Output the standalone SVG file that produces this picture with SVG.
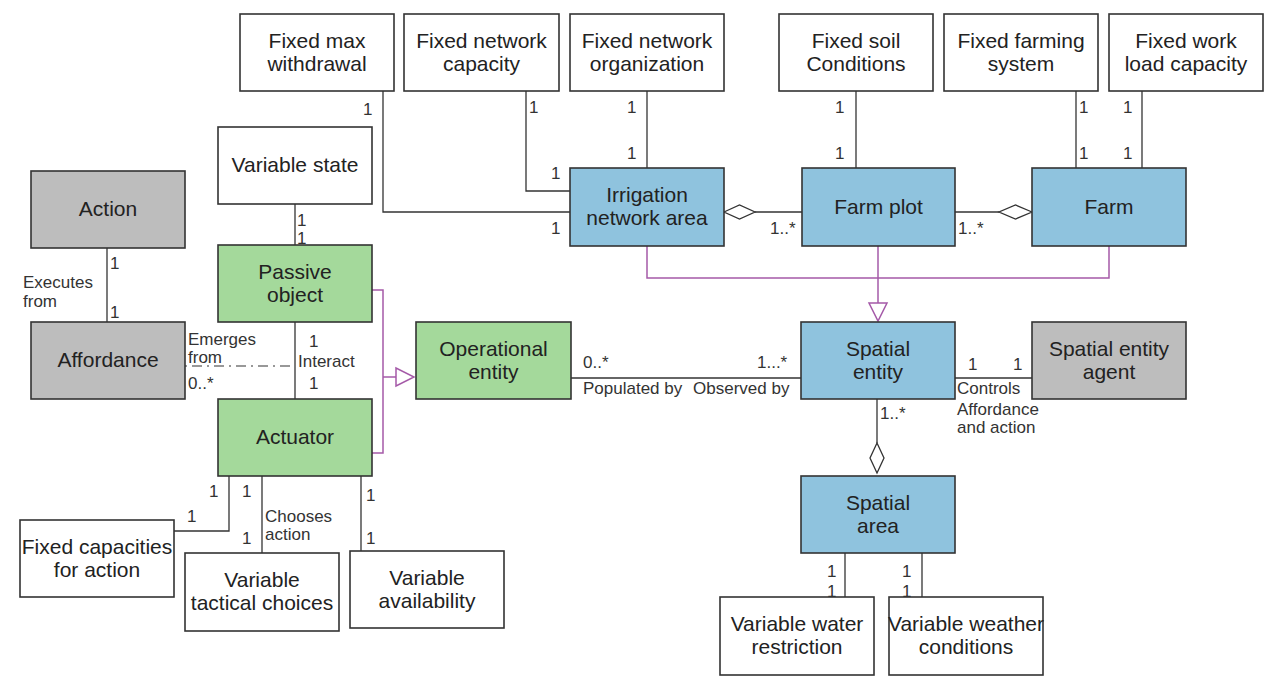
<svg xmlns="http://www.w3.org/2000/svg" width="1267" height="677" viewBox="0 0 1267 677">
  <style>
    .box rect { stroke: #333; stroke-width: 1.6; }
    .plain rect { fill: #ffffff; }
    .spatial rect { fill: #8fc3de; }
    .oper rect { fill: #a4d99b; }
    .agent rect { fill: #bdbdbd; }
    .box text { font-family: "Liberation Sans", Arial, sans-serif; font-size: 21px; fill: #222; text-anchor: middle; }
    .conn { fill: none; stroke: #333; stroke-width: 1.3; }
    .gen { fill: none; stroke: #a55aa8; stroke-width: 1.5; }
    .lbl { font-family: "Liberation Sans", Arial, sans-serif; font-size: 17px; fill: #333; }
    .dia { fill: #fff; stroke: #333; stroke-width: 1.3; }
    .tri { fill: #fff; stroke: #a55aa8; stroke-width: 1.5; }
  </style>

  <!-- connectors -->
  <g id="connectors">
    <!-- fixed attributes of the irrigation network area -->
    <polyline class="conn" points="383,91 383,212 570,212"/>
    <polyline class="conn" points="526,91 526,191 570,191"/>
    <line class="conn" x1="647" y1="91" x2="647" y2="168"/>
    <!-- fixed attributes of plot and farm -->
    <line class="conn" x1="856" y1="91" x2="856" y2="168"/>
    <line class="conn" x1="1076" y1="91" x2="1076" y2="168"/>
    <line class="conn" x1="1142" y1="91" x2="1142" y2="168"/>
    <!-- aggregations -->
    <line class="conn" x1="755" y1="212" x2="802" y2="212"/>
    <polygon class="dia" points="724,212 739.5,205 755,212 739.5,219"/>
    <line class="conn" x1="955" y1="212" x2="999" y2="212"/>
    <polygon class="dia" points="1032,212 1015.5,205 999,212 1015.5,219"/>
    <!-- generalization to spatial entity -->
    <polyline class="gen" points="647,246 647,278 1109,278 1109,246"/>
    <line class="gen" x1="878" y1="246" x2="878" y2="303"/>
    <polygon class="tri" points="869,303 887,303 878,321"/>
    <!-- spatial entity links -->
    <line class="conn" x1="571" y1="378" x2="801" y2="378"/>
    <line class="conn" x1="955" y1="378" x2="1032" y2="378"/>
    <line class="conn" x1="877" y1="399" x2="877" y2="443"/>
    <polygon class="dia" points="877,443 884,458 877,473 870,458"/>
    <line class="conn" x1="845" y1="553" x2="845" y2="597"/>
    <line class="conn" x1="922" y1="553" x2="922" y2="597"/>
    <!-- left cluster -->
    <line class="conn" x1="107" y1="248" x2="107" y2="322"/>
    <line class="conn" x1="295" y1="204" x2="295" y2="245"/>
    <line class="conn" x1="295" y1="322" x2="295" y2="399"/>
    <line x1="185" y1="366" x2="295" y2="366" stroke="#777" stroke-width="1.5" stroke-dasharray="2,5,10,5"/>
    <!-- generalization to operational entity -->
    <polyline class="gen" points="372,290 383,290 383,453 372,453"/>
    <line class="gen" x1="383" y1="377" x2="396" y2="377"/>
    <polygon class="tri" points="396,368 396,386 414,377"/>
    <!-- actuator attributes -->
    <polyline class="conn" points="229,476 229,531 174,531"/>
    <line class="conn" x1="262" y1="476" x2="262" y2="553"/>
    <line class="conn" x1="361" y1="476" x2="361" y2="551"/>
  </g>

  <!-- multiplicities and role labels -->
  <g id="labels" class="lbl">
    <text x="363" y="115">1</text>
    <text x="529" y="113">1</text>
    <text x="551" y="179">1</text>
    <text x="551" y="234">1</text>
    <text x="627" y="113">1</text>
    <text x="627" y="159">1</text>
    <text x="835" y="113">1</text>
    <text x="835" y="159">1</text>
    <text x="1079" y="113">1</text>
    <text x="1079" y="159">1</text>
    <text x="1123" y="113">1</text>
    <text x="1123" y="159">1</text>
    <text x="770" y="234">1..*</text>
    <text x="958" y="234">1..*</text>
    <text x="583" y="368">0..*</text>
    <text x="757" y="368">1...*</text>
    <text x="583" y="394">Populated by</text>
    <text x="693" y="394">Observed by</text>
    <text x="968" y="370">1</text>
    <text x="1013" y="370">1</text>
    <text x="957" y="394">Controls</text>
    <text x="957" y="415">Affordance</text>
    <text x="957" y="433">and action</text>
    <text x="880" y="419">1..*</text>
    <text x="827" y="577">1</text>
    <text x="827" y="597">1</text>
    <text x="902" y="577">1</text>
    <text x="902" y="597">1</text>
    <text x="110" y="269">1</text>
    <text x="110" y="318">1</text>
    <text x="23" y="288">Executes</text>
    <text x="23" y="307">from</text>
    <text x="297" y="226">1</text>
    <text x="297" y="244">1</text>
    <text x="188" y="345">Emerges</text>
    <text x="188" y="363">from</text>
    <text x="188" y="389">0..*</text>
    <text x="309" y="347">1</text>
    <text x="298" y="367">Interact</text>
    <text x="309" y="389">1</text>
    <text x="209" y="497">1</text>
    <text x="242" y="497">1</text>
    <text x="187" y="522">1</text>
    <text x="265" y="522">Chooses</text>
    <text x="265" y="540">action</text>
    <text x="242" y="544">1</text>
    <text x="366" y="501">1</text>
    <text x="366" y="544">1</text>
  </g>

  <!-- fixed attribute nodes (top row) -->
  <g id="fixed-max-withdrawal" class="box plain"><rect x="240" y="14" width="154" height="77"/><text x="317" y="48">Fixed max</text><text x="317" y="71">withdrawal</text></g>
  <g id="fixed-network-capacity" class="box plain"><rect x="404" y="14" width="155" height="77"/><text x="481.5" y="48">Fixed network</text><text x="481.5" y="71">capacity</text></g>
  <g id="fixed-network-organization" class="box plain"><rect x="570" y="14" width="154" height="77"/><text x="647" y="48">Fixed network</text><text x="647" y="71">organization</text></g>
  <g id="fixed-soil-conditions" class="box plain"><rect x="779" y="14" width="154" height="77"/><text x="856" y="48">Fixed soil</text><text x="856" y="71">Conditions</text></g>
  <g id="fixed-farming-system" class="box plain"><rect x="944" y="14" width="154" height="77"/><text x="1021" y="48">Fixed farming</text><text x="1021" y="71">system</text></g>
  <g id="fixed-work-load-capacity" class="box plain"><rect x="1109" y="14" width="154" height="77"/><text x="1186" y="48">Fixed work</text><text x="1186" y="71">load capacity</text></g>

  <!-- spatial hierarchy -->
  <g id="irrigation-network-area" class="box spatial"><rect x="570" y="168" width="154" height="78"/><text x="647" y="202">Irrigation</text><text x="647" y="225">network area</text></g>
  <g id="farm-plot" class="box spatial"><rect x="802" y="168" width="153" height="78"/><text x="878.5" y="214">Farm plot</text></g>
  <g id="farm" class="box spatial"><rect x="1032" y="168" width="154" height="78"/><text x="1109" y="214">Farm</text></g>
  <g id="spatial-entity" class="box spatial"><rect x="801" y="322" width="154" height="77"/><text x="878" y="356">Spatial</text><text x="878" y="379">entity</text></g>
  <g id="spatial-area" class="box spatial"><rect x="801" y="476" width="154" height="77"/><text x="878" y="510">Spatial</text><text x="878" y="533">area</text></g>
  <g id="spatial-entity-agent" class="box agent"><rect x="1032" y="322" width="154" height="77"/><text x="1109" y="356">Spatial entity</text><text x="1109" y="379">agent</text></g>

  <!-- operational side -->
  <g id="variable-state" class="box plain"><rect x="218" y="127" width="154" height="77"/><text x="295" y="172">Variable state</text></g>
  <g id="action" class="box agent"><rect x="31" y="171" width="154" height="77"/><text x="108" y="216">Action</text></g>
  <g id="affordance" class="box agent"><rect x="31" y="322" width="154" height="77"/><text x="108" y="367">Affordance</text></g>
  <g id="passive-object" class="box oper"><rect x="218" y="245" width="154" height="77"/><text x="295" y="279">Passive</text><text x="295" y="302">object</text></g>
  <g id="actuator" class="box oper"><rect x="218" y="399" width="154" height="77"/><text x="295" y="444">Actuator</text></g>
  <g id="operational-entity" class="box oper"><rect x="416" y="322" width="155" height="77"/><text x="493.5" y="356">Operational</text><text x="493.5" y="379">entity</text></g>

  <!-- attribute nodes (bottom) -->
  <g id="fixed-capacities-for-action" class="box plain"><rect x="20" y="520" width="154" height="77"/><text x="97" y="554">Fixed capacities</text><text x="97" y="577">for action</text></g>
  <g id="variable-tactical-choices" class="box plain"><rect x="185" y="553" width="154" height="78"/><text x="262" y="587">Variable</text><text x="262" y="610">tactical choices</text></g>
  <g id="variable-availability" class="box plain"><rect x="350" y="551" width="154" height="77"/><text x="427" y="585">Variable</text><text x="427" y="608">availability</text></g>
  <g id="variable-water-restriction" class="box plain"><rect x="720" y="597" width="154" height="78"/><text x="797" y="631">Variable water</text><text x="797" y="654">restriction</text></g>
  <g id="variable-weather-conditions" class="box plain"><rect x="889" y="597" width="154" height="78"/><text x="966" y="631">Variable weather</text><text x="966" y="654">conditions</text></g>
</svg>
